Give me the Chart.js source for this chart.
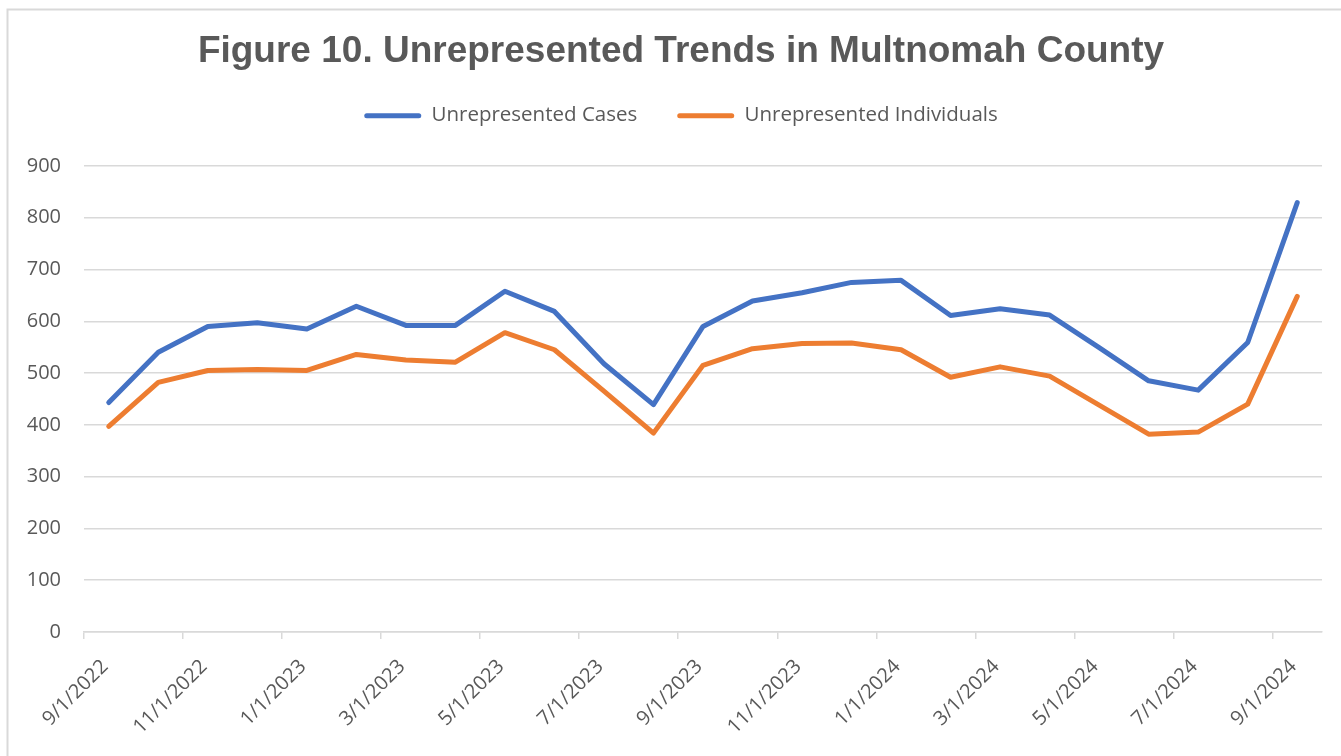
<!DOCTYPE html>
<html>
<head>
<meta charset="utf-8">
<script src="https://cdn.jsdelivr.net/npm/chart.js@4.4.1/dist/chart.umd.min.js"></script>
<style>
  html, body { margin: 0; padding: 0; background: #ffffff; }
  #wrap { position: relative; width: 1341px; height: 756px; }
</style>
</head>
<body>
<div id="wrap"><canvas id="chart"></canvas></div>
<script>
// Monthly categories (one slot per month)
const months = ['Sep 2022','Oct 2022','Nov 2022','Dec 2022','Jan 2023','Feb 2023','Mar 2023','Apr 2023',
  'May 2023','Jun 2023','Jul 2023','Aug 2023','Sep 2023','Oct 2023','Nov 2023','Dec 2023','Jan 2024',
  'Feb 2024','Mar 2024','Apr 2024','May 2024','Jun 2024','Jul 2024','Aug 2024','Sep 2024'];

const unrepresentedCases = [443, 540, 590, 597, 585, 629, 592, 592, 658, 619, 518, 439, 590,
  639, 655, 675, 679, 611, 624, 612, 549, 485, 467, 559, 829];

const unrepresentedIndividuals = [397, 482, 505, 507, 505, 536, 525, 521, 578, 545, 465, 384, 515,
  547, 557, 558, 545, 492, 512, 494, 438, 382, 386, 440, 648];

// Axis tick labels (every two months, at month boundaries)
const tickLabels = ['9/1/2022','11/1/2022','1/1/2023','3/1/2023','5/1/2023','7/1/2023','9/1/2023',
  '11/1/2023','1/1/2024','3/1/2024','5/1/2024','7/1/2024','9/1/2024'];

const TEXT = '#595959';
const GRID = '#d9d9d9';
const BODY_FONT = "'Open Sans', 'Liberation Sans', sans-serif";

const toPoints = arr => arr.map((v, i) => ({ x: i + 0.5, y: v }));

const frame = {
  id: 'frame',
  beforeDraw(chart) {
    const ctx = chart.ctx;
    ctx.save();
    ctx.strokeStyle = GRID;
    ctx.lineWidth = 2;
    ctx.strokeRect(7.5, 9.5, 1400, 800);
    ctx.restore();
  }
};

new Chart(document.getElementById('chart'), {
  type: 'line',
  data: {
    labels: months,
    datasets: [
      {
        label: 'Unrepresented Cases',
        data: toPoints(unrepresentedCases),
        borderColor: '#4472C4',
        backgroundColor: '#4472C4',
        borderWidth: 5,
        pointRadius: 0,
        tension: 0,
        borderCapStyle: 'round',
        borderJoinStyle: 'round'
      },
      {
        label: 'Unrepresented Individuals',
        data: toPoints(unrepresentedIndividuals),
        borderColor: '#ED7D31',
        backgroundColor: '#ED7D31',
        borderWidth: 5,
        pointRadius: 0,
        tension: 0,
        borderCapStyle: 'round',
        borderJoinStyle: 'round'
      }
    ]
  },
  options: {
    responsive: true,
    maintainAspectRatio: false,
    animation: false,
    layout: { padding: { left: 21, right: 0, top: 0, bottom: 0 } },
    plugins: {
      tooltip: { enabled: false },
      title: {
        display: true,
        text: 'Figure 10. Unrepresented Trends in Multnomah County',
        color: TEXT,
        font: { family: "'Liberation Sans', Arial, sans-serif", size: 37, weight: 'bold', lineHeight: 1.2 },
        padding: { top: 30, bottom: -9 }
      },
      subtitle: {
        display: true,
        text: '',
        weight: 100,
        font: { size: 1, lineHeight: 1 },
        padding: { top: 0, bottom: 29 }
      },
      legend: {
        display: true,
        position: 'top',
        labels: {
          color: TEXT,
          font: { family: BODY_FONT, size: 20.5 },
          boxWidth: 57,
          boxHeight: 5,
          padding: 40,
          useBorderRadius: true,
          borderRadius: 2.5,
          generateLabels: (chart) => Chart.defaults.plugins.legend.labels.generateLabels(chart)
            .map(l => Object.assign(l, { lineWidth: 0, fillStyle: l.strokeStyle, borderRadius: 2.5 }))
        }
      }
    },
    scales: {
      x: {
        type: 'linear',
        min: 0,
        max: months.length,
        afterBuildTicks: (scale) => {
          scale.ticks = tickLabels.map((_, i) => ({ value: i * 2 }));
        },
        afterFit: (scale) => {
          scale.height = 124;
          scale.paddingLeft = 0;
          scale.paddingRight = 0;
        },
        grid: {
          drawOnChartArea: false,
          drawTicks: true,
          tickLength: 7,
          color: GRID,
          lineWidth: 1.5
        },
        border: { display: true, color: GRID, width: 1.5 },
        ticks: {
          autoSkip: false,
          minRotation: 45,
          maxRotation: 45,
          padding: 16,
          labelOffset: 21,
          color: TEXT,
          font: { family: BODY_FONT, size: 20 },
          callback: (value, index) => tickLabels[index]
        }
      },
      y: {
        min: 0,
        max: 900,
        afterFit: (scale) => {
          scale.width = 63;
          scale.paddingTop = 0;
          scale.paddingBottom = 0;
        },
        grid: { color: GRID, lineWidth: 1.5, drawTicks: false },
        border: { display: false },
        ticks: {
          stepSize: 100,
          padding: 23,
          color: TEXT,
          font: { family: BODY_FONT, size: 20 }
        }
      },
      yRightSpacer: {
        position: 'right',
        display: true,
        min: 0,
        max: 900,
        afterFit: (scale) => {
          scale.width = 19;
          scale.paddingTop = 0;
          scale.paddingBottom = 0;
        },
        grid: { display: false, drawOnChartArea: false },
        border: { display: false },
        ticks: { display: false }
      }
    }
  },
  plugins: [frame]
});
</script>
</body>
</html>
